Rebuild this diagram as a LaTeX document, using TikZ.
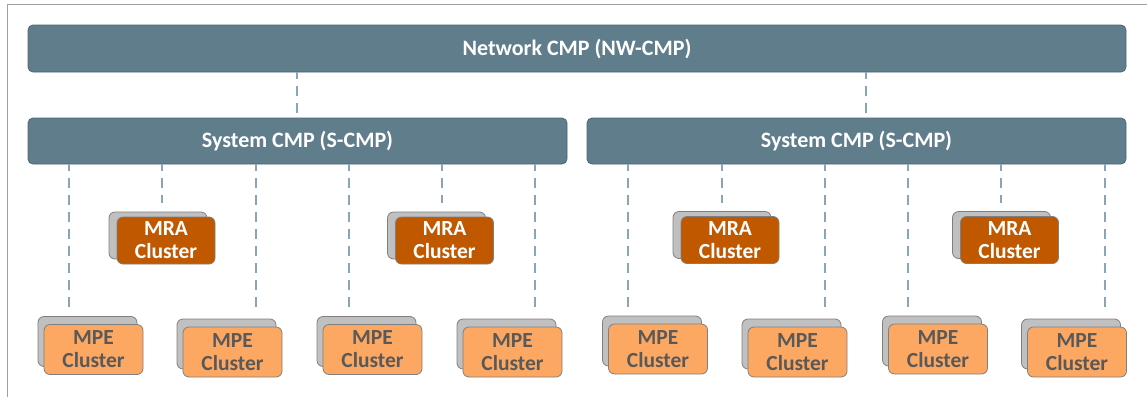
\documentclass[tikz,border=0pt]{standalone}
\usepackage{fontspec}
\setmainfont{Carlito}
\definecolor{barfill}{HTML}{607D8B}
\definecolor{barline}{HTML}{4C6672}
\definecolor{mrafill}{HTML}{C05800}
\definecolor{mpefill}{HTML}{FDA862}
\definecolor{backfill}{HTML}{C0C0C0}
\definecolor{boxline}{HTML}{7F7F7F}
\definecolor{mpetext}{HTML}{595959}
\definecolor{linkcol}{HTML}{8AA6B6}
\definecolor{framecol}{HTML}{A0A0A0}
\tikzset{
  cmpbar/.style={rounded corners=5pt, fill=barfill, draw=barline, line width=0.8pt,
    text=white, font=\bfseries\fontsize{22}{24}\selectfont, inner sep=0pt,
    minimum height=47pt},
  clusterback/.style={rounded corners=6pt, fill=backfill, draw=boxline, line width=0.8pt,
    inner sep=0pt},
  mrabox/.style={rounded corners=6pt, fill=mrafill, draw=boxline, line width=0.8pt,
    text=white, font=\bfseries\fontsize{21.5}{23}\selectfont, align=center, inner sep=0pt,
    minimum width=98pt, minimum height=47pt},
  mpebox/.style={rounded corners=6pt, fill=mpefill, draw=boxline, line width=0.8pt,
    text=mpetext, font=\bfseries\fontsize{21.5}{23}\selectfont, align=center, inner sep=0pt,
    minimum width=99pt, minimum height=50pt},
  link/.style={draw=linkcol, line width=1.8pt, dash pattern=on 10pt off 7pt, dash phase=3pt},
}
% an MRA cluster: a grey copy behind the orange box
\newcommand{\mracluster}[2]{%
  \node[clusterback, minimum width=98pt, minimum height=47pt] (#1back) at ($(#2)+(-8,-5)$) {};
  \node[mrabox] (#1) at (#2) {MRA\\Cluster};}
% an MPE cluster: a grey copy behind the light orange box
\newcommand{\mpecluster}[2]{%
  \node[clusterback, minimum width=99pt, minimum height=50pt] (#1back) at ($(#2)+(-6,-8)$) {};
  \node[mpebox] (#1) at (#2) {MPE\\Cluster};}
\usetikzlibrary{calc}
\begin{document}
\begin{tikzpicture}[x=1pt, y=-1pt]
\useasboundingbox (0,0) rectangle (1147,397);
% frame
\draw[framecol, line width=1.4pt] (7.5,397) -- (7.5,4.5) -- (1147,4.5);

% control bars
\node[cmpbar, minimum width=1098pt] (nw) at (577,48.5) {Network CMP (NW-CMP)};
\node[cmpbar, minimum width=539pt, minimum height=46pt] (s1) at (297.5,141) {System CMP (S-CMP)};
\node[cmpbar, minimum width=539pt, minimum height=46pt] (s2) at (856.5,141) {System CMP (S-CMP)};

% clusters
\mracluster{mra1}{166,240.5}
\mracluster{mra2}{444.5,240.5}
\mracluster{mra3}{730,240}
\mracluster{mra4}{1009.5,240}
\mpecluster{mpe1}{93.5,349.5}
\mpecluster{mpe2}{232.5,352}
\mpecluster{mpe3}{372.5,349.5}
\mpecluster{mpe4}{512.5,352}
\mpecluster{mpe5}{658,349}
\mpecluster{mpe6}{797.5,352}
\mpecluster{mpe7}{938,349}
\mpecluster{mpe8}{1077,352}

% links between levels
\draw[link] (nw.south -| 297,0) -- (s1.north -| 297,0);
\draw[link] (nw.south -| 866,0) -- (s2.north -| 866,0);

\coordinate (e1) at (69,314);  \coordinate (e2) at (162,203);  \coordinate (e3) at (256,314);
\coordinate (e4) at (349,314); \coordinate (e5) at (442,203);  \coordinate (e6) at (535,314);
\coordinate (e7) at (628,314); \coordinate (e8) at (722,203);  \coordinate (e9) at (825,314);
\coordinate (e10) at (908,314); \coordinate (e11) at (1001,203); \coordinate (e12) at (1105,314);
\foreach \i in {1,...,6}  {\draw[link] (s1.south -| e\i) -- (e\i);}
\foreach \i in {7,...,12} {\draw[link] (s2.south -| e\i) -- (e\i);}
\end{tikzpicture}
\end{document}
